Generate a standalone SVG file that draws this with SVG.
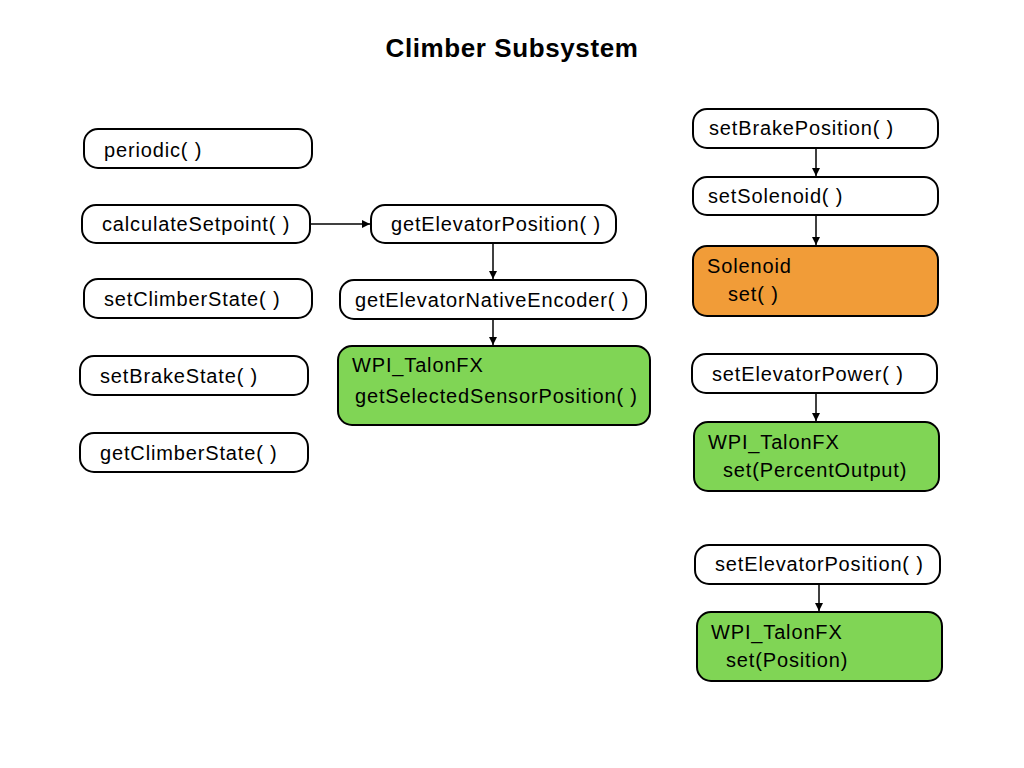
<svg xmlns="http://www.w3.org/2000/svg" width="1024" height="768" viewBox="0 0 1024 768">
<defs>
<style>
.n{fill:#fff;stroke:#000;stroke-width:2}
.g{fill:#80D555;stroke:#000;stroke-width:2}
.o{fill:#F19C38;stroke:#000;stroke-width:2}
text{font-family:"Liberation Sans",Arial,sans-serif;font-size:20px;letter-spacing:0.85px;fill:#000}
.t{font-size:26px;font-weight:bold;letter-spacing:0.6px}
.c{stroke:#000;stroke-width:1.5;fill:none;marker-end:url(#a)}
</style>
<marker id="a" viewBox="0 0 10 10" refX="10" refY="5" markerWidth="8" markerHeight="8" markerUnits="userSpaceOnUse" orient="auto"><path d="M0,0L10,5L0,10z" fill="#000"/></marker>
</defs>
<rect width="1024" height="768" fill="#fff"/>
<text class="t" x="512" y="57" text-anchor="middle">Climber Subsystem</text>
<g id="periodic"><rect class="n" x="84" y="129" width="228" height="39" rx="14"/><text x="104" y="157">periodic( )</text></g>
<g id="calculateSetpoint"><rect class="n" x="82" y="205" width="228" height="38" rx="14"/><text x="102" y="231">calculateSetpoint( )</text></g>
<g id="setClimberState"><rect class="n" x="84" y="279" width="228" height="39" rx="14"/><text x="104" y="306">setClimberState( )</text></g>
<g id="setBrakeState"><rect class="n" x="80" y="356" width="228" height="39" rx="14"/><text x="100" y="383">setBrakeState( )</text></g>
<g id="getClimberState"><rect class="n" x="80" y="433" width="228" height="39" rx="14"/><text x="100" y="460">getClimberState( )</text></g>
<g id="getElevatorPosition"><rect class="n" x="371" y="205" width="245" height="38" rx="14"/><text x="391" y="231">getElevatorPosition( )</text></g>
<g id="getElevatorNativeEncoder"><rect class="n" x="340" y="280" width="306" height="39" rx="14"/><text x="355" y="307">getElevatorNativeEncoder( )</text></g>
<g id="talonSensor"><rect class="g" x="338" y="346" width="312" height="79" rx="14"/><text x="352" y="372">WPI_TalonFX</text><text x="355" y="403">getSelectedSensorPosition( )</text></g>
<g id="setBrakePosition"><rect class="n" x="693" y="109" width="245" height="39" rx="14"/><text x="709" y="135">setBrakePosition( )</text></g>
<g id="setSolenoid"><rect class="n" x="693" y="177" width="245" height="38" rx="14"/><text x="708" y="203">setSolenoid( )</text></g>
<g id="solenoid"><rect class="o" x="693" y="246" width="245" height="70" rx="14"/><text x="707" y="273">Solenoid</text><text x="728" y="301">set( )</text></g>
<g id="setElevatorPower"><rect class="n" x="692" y="354" width="245" height="39" rx="14"/><text x="712" y="381">setElevatorPower( )</text></g>
<g id="talonPercent"><rect class="g" x="694" y="422" width="245" height="69" rx="14"/><text x="708" y="449">WPI_TalonFX</text><text x="723" y="477">set(PercentOutput)</text></g>
<g id="setElevatorPosition"><rect class="n" x="695" y="545" width="245" height="39" rx="14"/><text x="715" y="571">setElevatorPosition( )</text></g>
<g id="talonPosition"><rect class="g" x="697" y="612" width="245" height="69" rx="14"/><text x="711" y="639">WPI_TalonFX</text><text x="726" y="667">set(Position)</text></g>
<g id="connectors">
<line class="c" x1="311" y1="224" x2="370" y2="224"/>
<line class="c" x1="493" y1="244" x2="493" y2="279"/>
<line class="c" x1="493" y1="320" x2="493" y2="345"/>
<line class="c" x1="816" y1="149" x2="816" y2="176"/>
<line class="c" x1="816" y1="216" x2="816" y2="245"/>
<line class="c" x1="816" y1="394" x2="816" y2="421"/>
<line class="c" x1="819" y1="585" x2="819" y2="611"/>
</g>
</svg>
